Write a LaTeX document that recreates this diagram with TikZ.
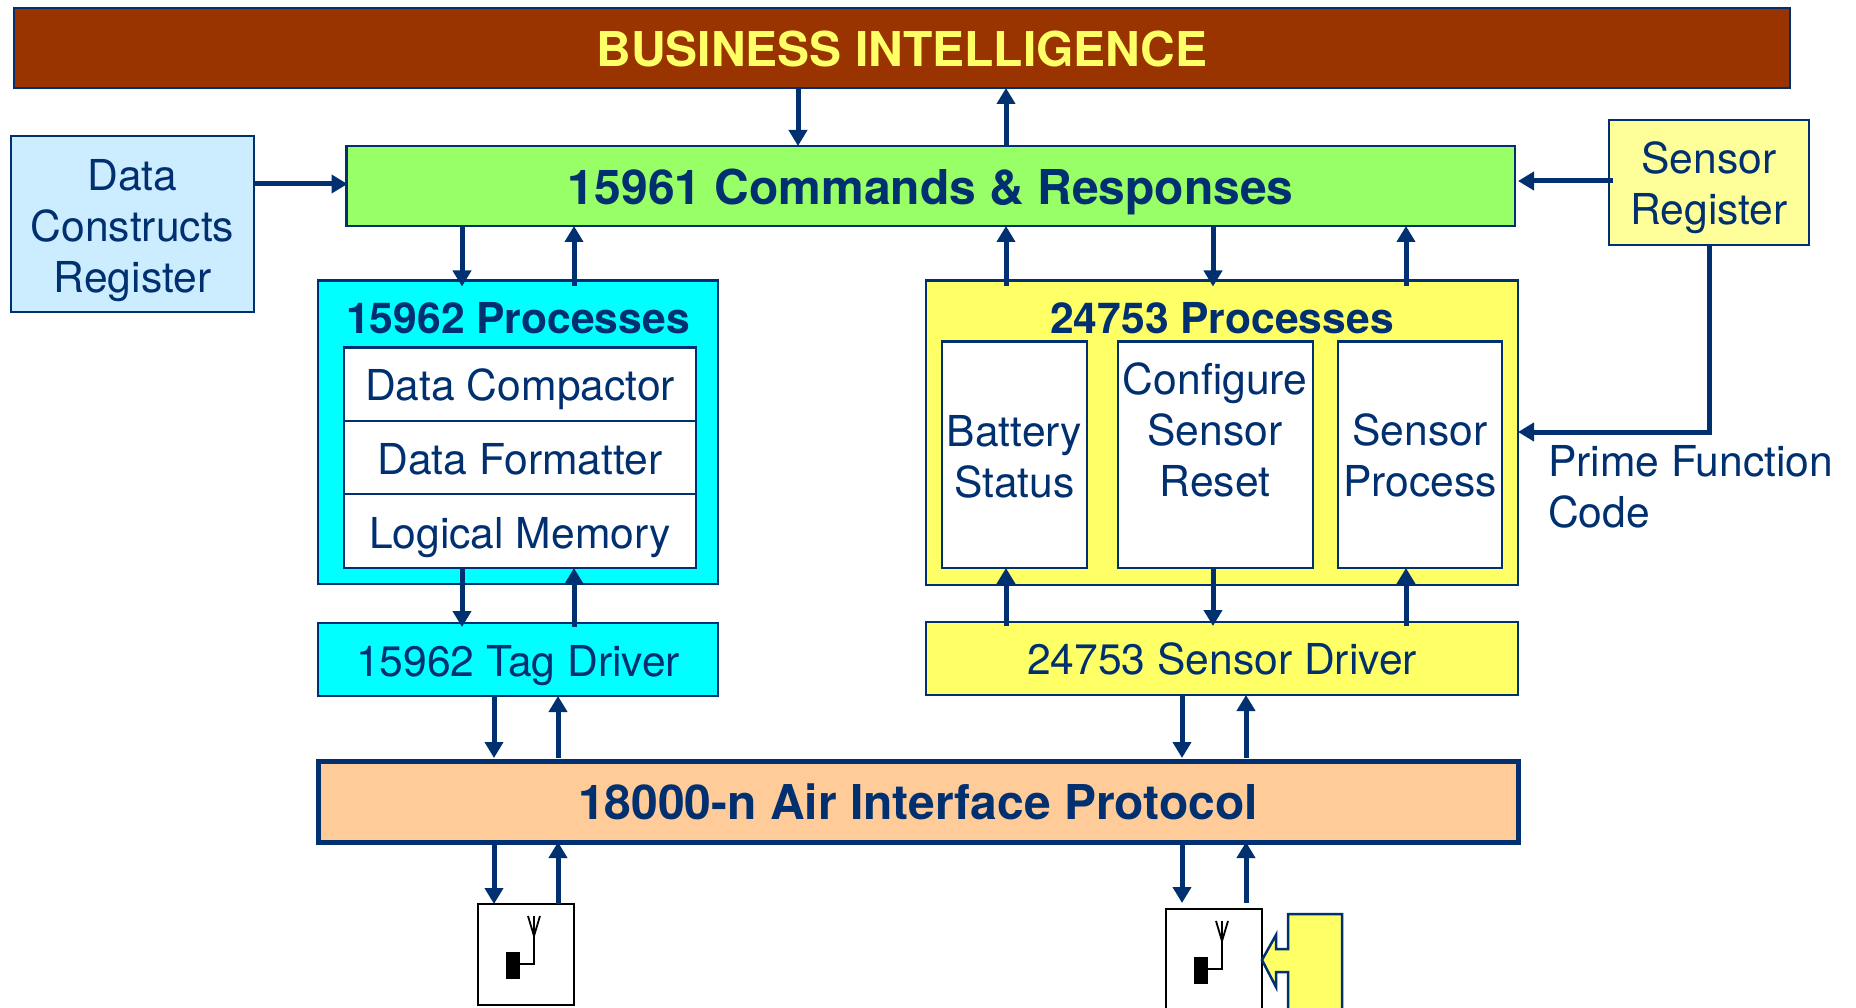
\documentclass[tikz,border=0pt]{standalone}
\usepackage{fontspec}
\setmainfont{TeX Gyre Heros}
\usetikzlibrary{arrows.meta}
\definecolor{navy}{HTML}{003070}
\definecolor{brickred}{HTML}{993300}
\definecolor{titleyellow}{HTML}{FFFF66}
\definecolor{paleblue}{HTML}{CCECFF}
\definecolor{limegreen}{HTML}{99FF66}
\definecolor{paleyellow}{HTML}{FFFF99}
\definecolor{peach}{HTML}{FFCC99}
\definecolor{brightcyan}{HTML}{00FFFF}
\tikzset{
  blk/.style={draw=navy,line width=2.6pt,inner sep=0pt,outer sep=0pt},
  txt/.style={text=navy,inner sep=0pt,outer sep=0pt,align=center,font=\fontsize{42.6}{51}\selectfont},
  boldhead/.style={txt,font=\fontsize{48}{56}\bfseries\selectfont},
  boldtxt/.style={txt,font=\fontsize{42.6}{51}\bfseries\selectfont},
  arr/.style={draw=navy,line width=5pt,-{Triangle[length=16pt,width=18pt]}},
  over/.style={shorten >=-#1},
  back/.style={shorten <=-#1},
  antbox/.style={draw=black,line width=2.4pt,fill=white,inner sep=0pt,outer sep=0pt},
  antline/.style={draw=black,line width=1.8pt},
}
\newcommand\pbox[7][]{%
  \pgfmathsetmacro\cxx{(#3+#5)/2}\pgfmathsetmacro\cyy{(#4+#6)/2}%
  \pgfmathsetmacro\www{#5-#3}\pgfmathsetmacro\hhh{#6-#4}%
  \node[#1,minimum width=\www pt,minimum height=\hhh pt] (#2) at (\cxx,\cyy) {#7};}
\newcommand\radio[3]{% name, x of stem, y offset
  \fill[black] (#2-28,#3+957) rectangle (#2-14,#3+984);
  \draw[antline] (#2-14,#3+969) -- (#2,#3+969) -- (#2,#3+921);
  \draw[antline] (#2-6,#3+921) -- (#2,#3+941) -- (#2+6,#3+921);}
\begin{document}
\begin{tikzpicture}[x=1pt,y=-1pt]
\useasboundingbox (0,0) rectangle (1856,1008);
% top row
\pbox[blk,fill=brickred,label={[boldhead,text=titleyellow,yshift=-1pt]center:BUSINESS INTELLIGENCE}]{bi}{14}{8}{1790}{88}{}
\pbox[blk,fill=paleblue,label={[txt,yshift=-6.5pt]center:{Data\\Constructs\\Register}}]{dcr}{11}{136}{254}{312}{}
\pbox[blk,fill=limegreen,label={[boldhead,yshift=-6pt]center:15961 Commands \& Responses}]{cmd}{346.5}{146}{1515}{226}{}
\pbox[blk,fill=paleyellow,label={[txt,yshift=-5pt]center:{Sensor\\Register}}]{sreg}{1609}{120}{1809}{245}{}
% 15962 group
\pbox[blk,fill=brightcyan]{pa}{318}{280.5}{718}{584}{}
\node[boldtxt] (pat) at (518,318.5) {15962 Processes};
\pbox[blk,fill=white,label={[txt,yshift=-5pt]center:Data Compactor}]{dc}{344}{347.5}{696}{421}{}
\pbox[blk,fill=white,label={[txt,yshift=-1.5pt]center:Data Formatter}]{df}{344}{421}{696}{494}{}
\pbox[blk,fill=white,label={[txt,yshift=-7pt]center:Logical Memory}]{lm}{344}{494}{696}{568}{}
\pbox[blk,fill=brightcyan,label={[txt,yshift=-6pt]center:15962 Tag Driver}]{tag}{318}{623}{718}{696}{}
% 24753 group
\pbox[blk,fill=titleyellow]{pb}{926}{280.5}{1518}{585}{}
\node[boldtxt] (pbt) at (1222,318.5) {24753 Processes};
\pbox[blk,fill=white,label={[txt,yshift=-2pt]center:{Battery\\Status}}]{bat}{942}{341.5}{1087}{568}{}
\pbox[blk,fill=white]{cfg}{1118}{341.5}{1313}{568}{}
\node[txt] (cfgt) at (1215,430) {Configure\\Sensor\\Reset};
\pbox[blk,fill=white,label={[txt,yshift=-1pt]center:{Sensor\\Process}}]{spr}{1338}{341.5}{1502}{568}{}
\pbox[blk,fill=titleyellow,label={[txt]center:24753 Sensor Driver}]{drv}{926}{622}{1518}{695}{}
% air interface
\pbox[blk,fill=peach,line width=5pt,label={[boldhead]center:18000-n Air Interface Protocol}]{air}{318}{761}{1518}{842}{}
% radios
\pbox[antbox]{anta}{478}{904}{574}{1005}{}
\pbox[antbox]{antb}{1166}{909}{1262}{1030}{}
\radio{anta}{534}{-5}
\radio{antb}{1222}{0}
% yellow block arrow
\draw[draw=navy,line width=2.5pt,fill=titleyellow] (antb.east |- 0,960) -- (1276,935) -- (1276,949) -- (1288,949) -- (1288,914) -- (1342,914) -- (1342,1030) -- (1288,1030) -- (1288,972) -- (1276,972) -- (1276,987) -- cycle;
% free label
\node[txt,align=left,anchor=base west] (pfc) at (1548,527) {Prime Function\\Code};
% x positions
\coordinate (xa) at (798,0);
\coordinate (xb) at (1006,0);
\coordinate (xc) at (462,0);
\coordinate (xd) at (574,0);
\coordinate (xe) at (1213,0);
\coordinate (xf) at (1406,0);
\coordinate (xg) at (494,0);
\coordinate (xh) at (558,0);
\coordinate (xi) at (1182,0);
\coordinate (xj) at (1246,0);
\coordinate (yd) at (0,184);
\coordinate (ys) at (0,181);
\coordinate (yp) at (0,432);
\coordinate (bend) at (sreg.south |- yp);
% arrows
\draw[arr] (xa |- bi.south) -- (xa |- cmd.north);
\draw[arr] (xb |- cmd.north) -- (xb |- bi.south);
\draw[arr,over=1pt] (dcr.east |- yd) -- (cmd.west |- yd);
\draw[arr,back=4pt,shorten >=3pt] (sreg.west |- ys) -- (cmd.east |- ys);
\draw[arr] (sreg.south) -- (bend) -- (pb.east |- yp);
\draw[arr,over=6pt] (xc |- cmd.south) -- (xc |- pa.north);
\draw[arr,back=6pt] (xd |- pa.north) -- (xd |- cmd.south);
\draw[arr,back=6pt] (xb |- pb.north) -- (xb |- cmd.south);
\draw[arr,over=6pt] (xe |- cmd.south) -- (xe |- pb.north);
\draw[arr,back=6pt] (xf |- pb.north) -- (xf |- cmd.south);
\draw[arr,over=4pt] (xc |- lm.south) -- (xc |- tag.north);
\draw[arr,back=4pt] (xd |- tag.north) -- (xd |- lm.south);
\draw[arr,back=4pt] (xb |- drv.north) -- (xb |- bat.south);
\draw[arr,over=4pt] (xe |- cfg.south) -- (xe |- drv.north);
\draw[arr,back=4pt] (xf |- drv.north) -- (xf |- spr.south);
\draw[arr,shorten >=3pt] (xg |- tag.south) -- (xg |- air.north);
\draw[arr,shorten <=3pt] (xh |- air.north) -- (xh |- tag.south);
\draw[arr,shorten >=3pt] (xi |- drv.south) -- (xi |- air.north);
\draw[arr,shorten <=3pt] (xj |- air.north) -- (xj |- drv.south);
\draw[arr] (xg |- air.south) -- (xg |- anta.north);
\draw[arr] (xh |- anta.north) -- (xh |- air.south);
\draw[arr,shorten >=6pt] (xi |- air.south) -- (xi |- antb.north);
\draw[arr,shorten <=6pt] (xj |- antb.north) -- (xj |- air.south);
\end{tikzpicture}
\end{document}
